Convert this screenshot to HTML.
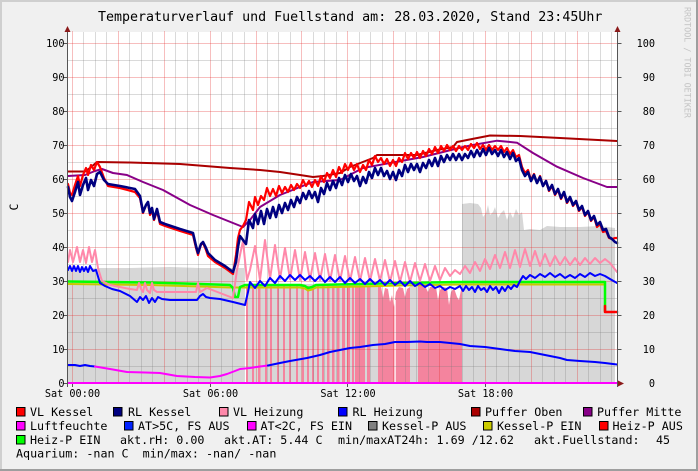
<!DOCTYPE html>
<html><head><meta charset="utf-8"><style>
html,body{margin:0;padding:0;background:#f0f0f0;}
svg{display:block;}
text{font-family:"DejaVu Sans Mono","Liberation Mono",monospace;white-space:pre;}
</style></head><body>
<svg width="698" height="471" viewBox="0 0 698 471" xmlns="http://www.w3.org/2000/svg">
<rect x="0" y="0" width="698" height="471" fill="#f0f0f0"/>
<rect x="0" y="0" width="698" height="2" fill="#cfcfcf"/>
<rect x="0" y="0" width="2" height="471" fill="#cfcfcf"/>
<rect x="0" y="469" width="698" height="2" fill="#9e9e9e"/>
<rect x="696" y="0" width="2" height="471" fill="#9e9e9e"/>

<text x="98" y="21" font-size="13.3" fill="#000">Temperaturverlauf und Fuellstand am: 28.03.2020, Stand 23:45Uhr</text>
<text transform="translate(684.5,7) rotate(90)" x="0" y="0" font-size="8.4" fill="#c4c4c4">RRDTOOL / TOBI OETIKER</text>
<text transform="translate(18,207) rotate(-90)" x="0" y="0" font-size="11.5" text-anchor="middle" fill="#000">C</text>

<!-- canvas -->
<rect x="68" y="32" width="549" height="351" fill="#ffffff"/>

<!-- grey areas -->
<polygon fill="#d7d7d7" points="68,383 68,270 80,269 97,268 130,268 170,267 200,268 237,268 244,268 244,383"/>
<rect x="246" y="284" width="132" height="99" fill="#d7d7d7"/>
<rect x="410" y="284" width="8" height="99" fill="#d7d7d7"/>
<polygon fill="#d7d7d7" points="462,383 462,204 470,203 478,204 481,208 483,217 486,213 488,205 490,215 493,212 495,207 498,218 501,213 504,210 507,220 510,212 513,218 516,209 519,215 522,212 524,230 530,229 540,230 547,226 560,227 580,227 600,226 615,228 615,383"/>

<!-- pink bars -->
<g fill="#f4849e">
<rect x="246" y="286" width="2" height="97"/>
<rect x="252" y="286" width="2" height="97"/>
<rect x="258" y="286" width="2.5" height="97"/>
<rect x="265" y="286" width="2" height="97"/>
<rect x="270" y="286" width="2" height="97"/>
<rect x="277" y="286" width="2" height="97"/>
<rect x="283" y="286" width="2" height="97"/>
<rect x="289" y="286" width="2" height="97"/>
<rect x="296" y="286" width="2" height="97"/>
<rect x="302" y="286" width="2" height="97"/>
<rect x="307" y="286" width="2" height="97"/>
<rect x="312" y="286" width="2" height="97"/>
<rect x="317" y="286" width="2" height="97"/>
<rect x="322" y="286" width="2" height="97"/>
<rect x="327" y="286" width="2.5" height="97"/>
<rect x="332" y="286" width="2.5" height="97"/>
<rect x="337" y="286" width="2.5" height="97"/>
<rect x="342" y="286" width="3" height="97"/>
<rect x="347" y="286" width="3" height="97"/>
<rect x="352" y="286" width="2" height="97"/>
<rect x="355" y="286" width="10" height="97"/>
<rect x="367" y="286" width="3" height="97"/>
<polygon points="378,286 381,286 383,298 385,288 388,289 390,302 392,295 394,307 396,292 399,287 403,288 405,297 407,289 410,287 410,383 378,383"/>
<polygon points="418,286 425,286 428,292 430,287 436,287 438,300 440,290 443,287 447,288 449,305 451,292 454,288 457,297 459,300 461,290 462,290 462,383 418,383"/>
</g>
<rect x="394.5" y="300" width="1.2" height="83" fill="#ffffff"/>

<!-- grid -->
<g stroke="rgba(120,120,120,0.27)" stroke-width="1">
<path d="M83.5 32V383M95.5 32V383M106.5 32V383M129.5 32V383M141.5 32V383M152.5 32V383M175.5 32V383M187.5 32V383M198.5 32V383M221.5 32V383M232.5 32V383M244.5 32V383M267.5 32V383M278.5 32V383M290.5 32V383M313.5 32V383M324.5 32V383M336.5 32V383M359.5 32V383M370.5 32V383M382.5 32V383M405.5 32V383M416.5 32V383M428.5 32V383M451.5 32V383M462.5 32V383M473.5 32V383M496.5 32V383M508.5 32V383M519.5 32V383M542.5 32V383M554.5 32V383M565.5 32V383M588.5 32V383M600.5 32V383M611.5 32V383"/>
<path d="M68 60.5H617M68 94.5H617M68 128.5H617M68 162.5H617M68 196.5H617M68 230.5H617M68 264.5H617M68 298.5H617M68 332.5H617M68 366.5H617"/>
</g>
<g stroke="rgba(230,40,40,0.3)" stroke-width="1">
<path d="M72.5 31V383M118.5 31V383M164.5 31V383M210.5 31V383M256.5 31V383M301.5 31V383M347.5 31V383M393.5 31V383M439.5 31V383M485.5 31V383M531.5 31V383M577.5 31V383"/>
<path d="M68 43.5H617M68 77.5H617M68 111.5H617M68 145.5H617M68 179.5H617M68 213.5H617M68 247.5H617M68 281.5H617M68 315.5H617M68 349.5H617"/>
</g>

<!-- lines -->
<g fill="none" stroke-linejoin="round" stroke-linecap="round">
<polyline stroke="#aa0000" stroke-width="2" points="68,171.5 85,171.5 90,168 97,162 130,162.5 180,164 230,168 260,170 280,172 300,175 313,177 323,176 340,173 350,167 373,158 377,155 417,155 437,150 453,147 457,142 467,140 490,135.5 520,136 560,138 617,141"/>
<polyline stroke="#880088" stroke-width="2" points="68,176 85,175 95,171 102,169 113,173 127,175 143,182 163,190 190,205 213,215 243,227 250,220 260,207 280,195 300,187 313,182 340,180 363,168 390,163 423,157 463,147 473,145 497,140.7 517,142.7 533,153 557,166.7 583,178 607,187 617,187"/>
<polyline stroke="#c8c800" stroke-width="2" points="68,284 150,285 200,286.5 230,287.5 245,287.5 300,287.5 305,288.5 308,290.5 312,289.5 316,287.5 360,286.5 400,285.5 460,284.5 604,284.5"/>
<polyline stroke="#00ff00" stroke-width="2.5" points="68,281.5 150,282.5 200,284 230,285 233,288 235,297 238,297 240,287 245,285 300,285 305,286 308,288 312,287 316,285 360,284 400,283 460,282 604,282 605,282 605,311"/>
<polyline stroke="#ff0000" stroke-width="2.5" points="605,306 605,312 617,312"/>
<polyline stroke="#ff88aa" stroke-width="2" points="68,262 70,250 73,262 77,247 80,262 83,250 86,263 89,247 92,262 95,250 98,268 102,281 110,285 120,287 130,289 137,290 139,283 141,289 143,292 145,283 147,290 150,293 152,283 154,290 157,292 163,292 180,292 196,292 198,283 200,292 207,288 220,293 233,298 237,270 240,255 243,241 247,280 250,270 255,246 260,280 265,240 270,279 275,245 280,279 285,248 290,279 295,250 300,280 305,252 310,280 315,253 320,280 325,254 330,281 335,255 340,281 345,256 350,281 355,257 360,281 365,258 370,281 375,259 380,281 385,260 390,282 395,261 400,282 405,262 410,282 415,263 420,281 425,264 430,281 435,266 440,280 445,268 450,276 455,270 460,274 465,266 470,273 475,262 480,271 485,259 490,269 495,255 500,268 505,252 510,268 515,250 520,267 525,249 530,266 535,251 540,266 545,254 550,266 555,256 560,265 565,257 570,265 575,258 580,265 585,258 590,264 595,258 600,263 605,259 610,263 617,272"/>
<polyline stroke="#0000ff" stroke-width="2" points="68,270 70,266 72,271 74,266 76,271 78,266 80,272 82,267 84,271 86,267 88,272 90,266 93,271 96,270 100,283 105,286 112,289 120,291 130,296 137,302 140,297 143,300 146,296 149,303 152,298 155,302 158,297 162,299 170,300 180,300 197,300 200,296 203,294 206,297 210,298 220,299 233,302 245,305 248,292 250,282 255,288 260,281 265,286 270,278 275,283 280,276 285,281 290,275 295,280 300,275 305,280 310,276 315,281 320,276 325,282 330,277 335,282 340,277 345,283 350,278 355,283 360,279 365,284 370,279 375,284 380,280 385,285 390,280 395,285 400,281 405,286 410,281 415,286 420,283 425,287 430,284 435,288 440,286 445,290 450,287 455,289 460,286 463,291 466,286 469,290 472,287 475,292 478,286 481,290 484,288 487,292 490,286 493,290 496,287 499,293 502,287 505,291 508,286 511,289 514,285 517,287 520,281 523,276 526,279 530,275 535,278 540,274 545,277 550,273 555,277 560,274 565,278 570,275 575,278 580,274 585,277 590,273 595,276 600,274 605,276 610,279 617,283"/>
<polyline stroke="#ff0000" stroke-width="2.2" points="68,184 70,193 72,195 75,185 78,176 80,186 83,175 86,168 88,175 91,165 94,170 97,162 100,167 104,178 108,186 120,188 135,192 140,198 143,213 146,205 148,203 150,215 152,210 154,220 157,211 160,224 165,226 180,231 193,235 196,248 198,255 201,244 203,243 206,250 208,256 215,262 225,268 233,274 236,255 238,238 240,230 243,226 246,220 249,202 251,206 253,210 255,197 258,205 261,196 264,200 267,188 270,196 273,189 276,196 279,186 282,193 285,187 288,192 291,185 294,190 297,184 300,188 303,180 306,186 309,181 312,187 315,180 318,186 321,176 324,182 327,173 330,178 333,170 336,177 339,167 342,173 345,164 348,170 351,163 354,170 357,164 360,172 363,165 366,170 369,160 372,165 375,156 378,162 381,158 384,164 387,159 390,166 393,160 396,166 399,158 402,162 405,153 408,159 411,153 414,158 417,152 420,158 423,151 426,156 429,149 432,154 435,147 438,153 441,146 444,151 447,145 450,150 453,146 456,151 459,146 462,150 465,146 468,150 471,144 474,148 477,143 480,149 483,145 486,150 489,145 492,150 495,146 498,150 501,146 504,152 507,148 510,154 513,150 516,157 519,155 522,167 525,173 528,170 531,180 534,174 537,183 540,176 543,186 546,181 549,191 552,186 555,195 558,190 561,199 564,193 567,203 570,198 573,206 576,202 579,211 582,207 585,216 588,212 591,221 594,217 597,227 600,224 603,232 606,231 609,238 612,239 615,238 617,238"/>
<polyline stroke="#000080" stroke-width="2.6" points="68,187 70,197 72,201 75,192 78,182 80,195 83,185 86,178 88,190 91,180 94,186 97,174 100,172 104,180 108,184 120,186 135,189 140,196 143,212 146,205 148,202 150,213 152,208 154,219 157,209 160,222 165,224 180,229 193,233 196,246 198,253 201,244 203,242 206,248 208,253 215,260 225,266 233,272 236,262 238,247 240,236 243,240 246,244 249,220 251,224 253,228 255,214 258,224 261,211 264,224 267,209 270,218 273,207 276,217 279,205 282,213 285,203 288,210 291,200 294,207 297,197 300,203 303,193 306,199 309,191 312,198 315,192 318,202 321,188 324,194 327,183 330,190 333,181 336,188 339,178 342,185 345,175 348,182 351,174 354,181 357,176 360,186 363,177 366,183 369,172 372,178 375,168 378,175 381,168 384,176 387,171 390,179 393,172 396,180 399,170 402,176 405,165 408,172 411,164 414,170 417,164 420,172 423,163 426,168 429,160 432,166 435,158 438,166 441,156 444,162 447,155 450,160 453,154 456,160 459,154 462,160 465,154 468,158 471,151 474,157 477,150 480,156 483,149 486,155 489,148 492,154 495,150 498,156 501,150 504,157 507,152 510,159 513,153 516,161 519,158 522,170 525,176 528,172 531,181 534,175 537,183 540,177 543,186 546,181 549,190 552,185 555,194 558,189 561,198 564,192 567,202 570,197 573,205 576,201 579,210 582,206 585,215 588,211 591,220 594,216 597,225 600,222 603,230 606,229 609,237 612,239 615,242 617,243"/>
<polyline stroke="#0000ff" stroke-width="2" points="68,365 75,365 80,366 85,365 90,366 95,366.5"/>
<polyline stroke="#ff00ff" stroke-width="2" points="95,366.5 110,369 127,372 145,372.5 160,373 177,376 195,377 210,377.5 220,376 227,374 235,371 240,369 250,368 260,366.5 268,365.5"/>
<polyline stroke="#0000ff" stroke-width="2" points="268,365.5 280,363 290,361 307,358 320,355 330,352 340,350 350,348 360,347 373,345 385,344 395,342 407,342 420,341.5 427,342 440,342 450,343 460,344 470,346 485,347 500,349 515,351 530,352 545,355 560,358 567,360 580,361 595,362 605,363 617,364.5"/>
</g>

<!-- axes -->
<g stroke="#555" stroke-width="1" fill="none">
<path d="M67.5 30V387M617.5 30V387M64 383.5H622"/>
<path d="M63.5 43.5H68M63.5 77.5H68M63.5 111.5H68M63.5 145.5H68M63.5 179.5H68M63.5 213.5H68M63.5 247.5H68M63.5 281.5H68M63.5 315.5H68M63.5 349.5H68M63.5 383.5H68"/>
<path d="M617 43.5H621.5M617 77.5H621.5M617 111.5H621.5M617 145.5H621.5M617 179.5H621.5M617 213.5H621.5M617 247.5H621.5M617 281.5H621.5M617 315.5H621.5M617 349.5H621.5"/>
<path d="M72.5 383V387M210.5 383V387M347.5 383V387M485.5 383V387"/>
</g>
<line x1="68" y1="383" x2="617" y2="383" stroke="#ff00ff" stroke-width="2"/>
<g fill="#8b1a1a">
<polygon points="67.5,26 64.5,32 70.5,32"/>
<polygon points="617.5,26 614.5,32 620.5,32"/>
<polygon points="624,383.5 618,380.5 618,386.5"/>
</g>

<!-- axis labels -->
<g font-size="10.2" fill="#000">
<g text-anchor="end">
<text x="64.5" y="47">100</text><text x="64.5" y="81">90</text><text x="64.5" y="115">80</text><text x="64.5" y="149">70</text><text x="64.5" y="183">60</text><text x="64.5" y="217">50</text><text x="64.5" y="251">40</text><text x="64.5" y="285">30</text><text x="64.5" y="319">20</text><text x="64.5" y="353">10</text><text x="64.5" y="387">0</text>
<text x="655" y="47">100</text><text x="655" y="81">90</text><text x="655" y="115">80</text><text x="655" y="149">70</text><text x="655" y="183">60</text><text x="655" y="217">50</text><text x="655" y="251">40</text><text x="655" y="285">30</text><text x="655" y="319">20</text><text x="655" y="353">10</text><text x="655" y="387">0</text>
</g>
<g text-anchor="middle">
<text x="72.5" y="397">Sat 00:00</text><text x="210.5" y="397">Sat 06:00</text><text x="348" y="397">Sat 12:00</text><text x="485.5" y="397">Sat 18:00</text>
</g>
</g>

<!-- legend -->
<g stroke="#000" stroke-width="1">
<rect x="16.5" y="407.5" width="8.5" height="8.5" fill="#ff0000"/>
<rect x="113.5" y="407.5" width="8.5" height="8.5" fill="#000080"/>
<rect x="219.5" y="407.5" width="8.5" height="8.5" fill="#ff88aa"/>
<rect x="338.5" y="407.5" width="8.5" height="8.5" fill="#0000ff"/>
<rect x="471.5" y="407.5" width="8.5" height="8.5" fill="#aa0000"/>
<rect x="583.5" y="407.5" width="8.5" height="8.5" fill="#880088"/>
<rect x="16.5" y="421.5" width="8.5" height="8.5" fill="#ff00ff"/>
<rect x="124.5" y="421.5" width="8.5" height="8.5" fill="#0022ff"/>
<rect x="247.5" y="421.5" width="8.5" height="8.5" fill="#ff00ff"/>
<rect x="368.5" y="421.5" width="8.5" height="8.5" fill="#808080"/>
<rect x="483.5" y="421.5" width="8.5" height="8.5" fill="#cccc00"/>
<rect x="599.5" y="421.5" width="8.5" height="8.5" fill="#ff0000"/>
<rect x="16.5" y="435.5" width="8.5" height="8.5" fill="#00ff00"/>
</g>
<g font-size="11.7" fill="#000">
<text x="30" y="416">VL Kessel</text>
<text x="128" y="416">RL Kessel</text>
<text x="233" y="416">VL Heizung</text>
<text x="352.5" y="416">RL Heizung</text>
<text x="485" y="416">Puffer Oben</text>
<text x="597" y="416">Puffer Mitte</text>
<text x="30" y="430">Luftfeuchte</text>
<text x="138" y="430">AT&gt;5C, FS AUS</text>
<text x="260.5" y="430">AT&lt;2C, FS EIN</text>
<text x="382" y="430">Kessel-P AUS</text>
<text x="497" y="430">Kessel-P EIN</text>
<text x="612.5" y="430">Heiz-P AUS</text>
<text x="30" y="444">Heiz-P EIN</text>
<text x="120" y="444">akt.rH: 0.00</text>
<text x="224" y="444">akt.AT: 5.44 C</text>
<text x="338" y="444">min/maxAT24h: 1.69 /12.62</text>
<text x="534" y="444">akt.Fuellstand:</text>
<text x="656" y="444">45</text>
<text x="16" y="457.5">Aquarium: -nan C  min/max: -nan/ -nan</text>
</g>
</svg>
</body></html>
